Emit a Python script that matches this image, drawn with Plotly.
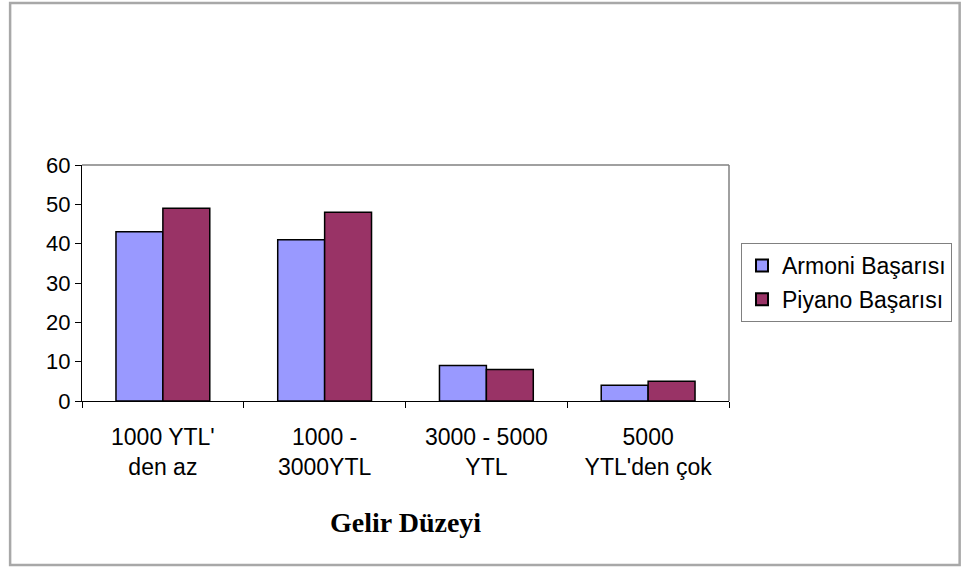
import plotly.graph_objects as go

categories = ["1000 YTL'<br>den az", "1000 -<br>3000YTL", "3000 - 5000<br>YTL", "5000<br>YTL'den çok"]
armoni = [43, 41, 9, 4]
piyano = [49, 48, 8, 5]
series_names = ["Armoni Başarısı", "Piyano Başarısı"]
y_ticks = [0, 10, 20, 30, 40, 50, 60]

fig = go.Figure()
fig.add_trace(go.Bar(x=categories, y=armoni, name=series_names[0], legendgroup="a",
                     marker=dict(color="#9999FF", line=dict(color="#000000", width=1.5))))
fig.add_trace(go.Bar(x=categories, y=piyano, name=series_names[1], legendgroup="b",
                     marker=dict(color="#993366", line=dict(color="#000000", width=1.5))))

L, R, T, B = 82, 730, 165, 401
W, H = 963, 567
pw, ph = R - L, B - T

def px(x):
    return (x - L) / pw

def py(y):
    return (B - y) / ph

fig.update_layout(
    width=W, height=H,
    margin=dict(l=L, r=W - R, t=T, b=H - B),
    paper_bgcolor="white", plot_bgcolor="white",
    barmode="group", bargap=0.42, bargroupgap=0,
    font=dict(family="Arial, Liberation Sans, sans-serif", color="#000000"),
    showlegend=True,
    legend=dict(x=px(741), y=py(243), xanchor="left", yanchor="top",
                bordercolor="#808080", borderwidth=1, bgcolor="white",
                font=dict(size=23, family="Arial, Liberation Sans, sans-serif"),
                tracegroupgap=1, itemsizing="constant", itemwidth=30),
    xaxis=dict(type="category", showgrid=False, showline=True, linecolor="#000000", linewidth=1,
               ticks="outside", ticklen=6, tickcolor="#000000", tickson="boundaries",
               tickfont=dict(size=23), ticklabelstandoff=15, mirror=False),
    yaxis=dict(range=[0, 60], tickvals=y_ticks, showgrid=False, showline=True,
               linecolor="#000000", linewidth=1, ticks="outside", ticklen=6,
               tickcolor="#000000", tickfont=dict(size=22), zeroline=False),
    shapes=[
        dict(type="line", xref="paper", yref="paper", x0=0, x1=1, y0=1, y1=1,
             line=dict(color="#808080", width=1.5)),
        dict(type="line", xref="paper", yref="paper", x0=1, x1=1, y0=0, y1=1,
             line=dict(color="#808080", width=1.5)),
        dict(type="rect", xref="paper", yref="paper", x0=px(10), x1=px(961),
             y0=py(565), y1=py(3), line=dict(color="#a8a8a8", width=2.5)),
    ],
    annotations=[
        dict(text="<b>Gelir Düzeyi</b>", xref="paper", yref="paper", x=0.5, y=py(522),
             xanchor="center", yanchor="middle", showarrow=False,
             font=dict(family="Liberation Serif, Times New Roman, serif", size=28, color="#000000")),
    ],
)

fig.write_html("out.html", config={"displayModeBar": False},
               post_script="document.body.style.margin='0';document.body.style.overflow='hidden';")
